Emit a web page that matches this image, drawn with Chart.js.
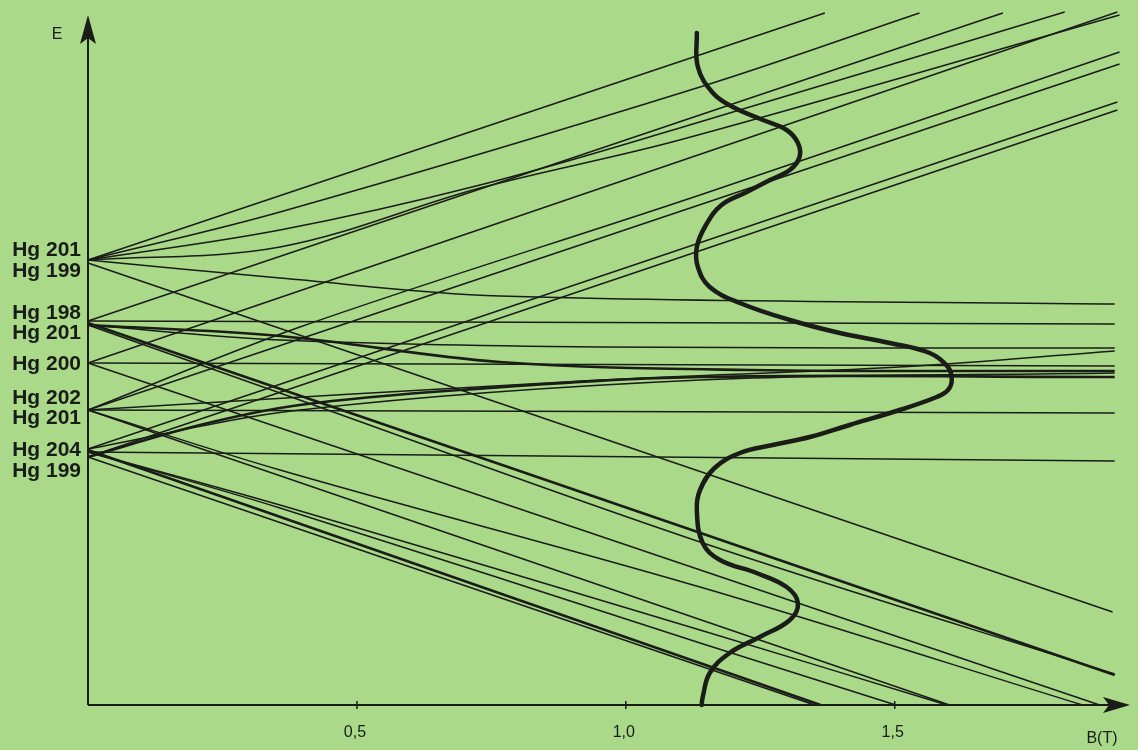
<!DOCTYPE html>
<html>
<head>
<meta charset="utf-8">
<script src="https://cdn.jsdelivr.net/npm/chart.js@4.4.1/dist/chart.umd.min.js"></script>
<style>
  html, body { margin: 0; padding: 0; background: #a9d989; }
  #wrap { width: 1138px; height: 750px; }
</style>
</head>
<body>
<div id="wrap"><canvas id="zeeman" width="1138" height="750"></canvas></div>
<script>
// Zeeman splitting of the Hg isotopes' levels versus magnetic field B (T).
// Energy E is in arbitrary units (no scale on the axis).

const isotopeLabels  = ['Hg 201', 'Hg 199', 'Hg 198', 'Hg 201', 'Hg 200', 'Hg 202', 'Hg 201', 'Hg 204', 'Hg 199'];
const labelEnergies  = [455, 434, 392, 372, 341, 307, 287, 255, 234];
const xTicks         = [0.5, 1.0, 1.5];

// Levels rising with B: [B, E] points
const risingLevels = [
  [[0, 445], [1.370, 692]],
  [[0, 445], [0.357, 493], [1.138, 618], [1.546, 692]],
  [[0, 384], [1.701, 692]],
  [[0, 445], [0.357, 475], [0.729, 520], [1.100, 577], [1.816, 693]],
  [[0, 342], [1.914, 693]],
  [[0, 445], [0.357, 458], [0.729, 517], [1.100, 565], [1.918, 690]],
  [[0, 295], [0.394, 378], [1.138, 510], [1.918, 653]],
  [[0, 295], [1.918, 641]],
  [[0, 256], [1.914, 603]],
  [[0, 248], [1.914, 595]]
];

// Levels that level off with B
const flatLevels = [
  [[0, 445], [0.357, 427], [0.766, 409], [1.909, 401]],
  [[0, 384], [1.909, 381]],
  [[0, 380], [0.357, 365], [0.952, 358], [1.909, 357]],
  [[0, 380], [0.357, 369], [0.766, 343], [1.230, 335], [1.909, 334]],
  [[0, 342], [1.909, 339]],
  [[0, 256], [0.394, 295], [1.138, 325], [1.909, 332]],
  [[0, 248], [0.208, 280], [0.394, 300], [0.691, 315], [1.138, 328], [1.909, 328]],
  [[0, 295], [0.952, 325], [1.509, 338], [1.909, 354]],
  [[0, 295], [1.909, 292]],
  [[0, 253], [1.909, 244]]
];

// Levels falling with B
const fallingLevels = [
  [[0, 442], [1.905, 93]],
  [[0, 382], [1.909, 30]],
  [[0, 380], [0.357, 312], [1.138, 163], [1.909, 31]],
  [[0, 342], [1.881, 0]],
  [[0, 295], [0.357, 235], [1.138, 118], [1.849, 0]],
  [[0, 295], [1.602, 0]],
  [[0, 253], [0.357, 200], [1.138, 75], [1.597, 0]],
  [[0, 253], [0.357, 197], [1.138, 62], [1.502, 0]],
  [[0, 255], [1.362, 0]],
  [[0, 248], [1.351, 0]]
];

// Heavier strokes
const heavyFlat    = [3, 6];
const heavyFalling = [1, 8];

// Absorption profile drawn across the diagram
const profileB = [1.132, 1.134, 1.162, 1.199, 1.255, 1.299, 1.320, 1.323, 1.305, 1.268, 1.225, 1.178, 1.149, 1.132,
                  1.134, 1.156, 1.212, 1.305, 1.398, 1.491, 1.565, 1.599, 1.606, 1.599, 1.578, 1.509, 1.416, 1.342,
                  1.273, 1.212, 1.165, 1.138, 1.132, 1.143, 1.175, 1.243, 1.299, 1.320, 1.305, 1.249, 1.193, 1.156,
                  1.143, 1.141];
const profileE = [672, 638, 612, 598, 585, 575, 562, 548, 535, 525, 513, 500, 480, 458,
                  438, 418, 402, 385, 372, 362, 352, 338, 325, 315, 308, 295, 280, 268,
                  260, 252, 237, 215, 195, 162, 145, 132, 118, 102, 85, 68, 52, 32,
                  8, 0];

const INK = '#1a1c18';
const BG  = '#aad98a';

function levelDataset(pts, heavy) {
  return {
    data: pts.map(([b, e]) => ({ x: b, y: e })),
    showLine: true,
    borderColor: INK,
    borderWidth: heavy ? 2.6 : 1.5,
    tension: pts.length > 2 ? 0.35 : 0,
    pointRadius: 0,
    fill: false,
    clip: false
  };
}

const datasets = [];
risingLevels.forEach(p => datasets.push(levelDataset(p, false)));
flatLevels.forEach((p, i) => datasets.push(levelDataset(p, heavyFlat.includes(i))));
fallingLevels.forEach((p, i) => datasets.push(levelDataset(p, heavyFalling.includes(i))));
datasets.push({
  data: profileB.map((b, i) => ({ x: b, y: profileE[i] })),
  showLine: true,
  borderColor: INK,
  borderWidth: 4.5,
  borderCapStyle: 'round',
  borderJoinStyle: 'round',
  tension: 0.4,
  pointRadius: 0,
  fill: false,
  clip: false
});

// Axes with arrowheads, ticks and labels
const axesDecor = {
  id: 'axesDecor',
  beforeDraw(chart) {
    const { ctx, width, height } = chart;
    ctx.save();
    ctx.fillStyle = BG;
    ctx.fillRect(0, 0, width, height);
    ctx.restore();
  },
  afterDatasetsDraw(chart) {
    const { ctx, chartArea, scales: { x, y } } = chart;
    const x0 = x.getPixelForValue(0);
    const y0 = y.getPixelForValue(0);
    const top = chartArea.top + 3;
    const right = chartArea.right + 4;
    ctx.save();
    ctx.strokeStyle = INK;
    ctx.fillStyle = INK;
    ctx.lineWidth = 2;

    // vertical axis
    ctx.beginPath();
    ctx.moveTo(x0, y0);
    ctx.lineTo(x0, top + 20);
    ctx.stroke();
    ctx.beginPath();
    ctx.moveTo(x0, top);
    ctx.lineTo(x0 + 8, top + 29);
    ctx.lineTo(x0, top + 23);
    ctx.lineTo(x0 - 8, top + 29);
    ctx.closePath();
    ctx.fill();

    // horizontal axis
    ctx.beginPath();
    ctx.moveTo(x0, y0);
    ctx.lineTo(right - 18, y0);
    ctx.stroke();
    ctx.beginPath();
    ctx.moveTo(right, y0);
    ctx.lineTo(right - 27, y0 - 8);
    ctx.lineTo(right - 21, y0);
    ctx.lineTo(right - 27, y0 + 8);
    ctx.closePath();
    ctx.fill();

    // ticks
    ctx.lineWidth = 1.5;
    ctx.font = '16px "Liberation Sans", Arial, sans-serif';
    ctx.textAlign = 'center';
    ctx.textBaseline = 'middle';
    xTicks.forEach(t => {
      const px = x.getPixelForValue(t);
      ctx.beginPath();
      ctx.moveTo(px, y0 - 4);
      ctx.lineTo(px, y0 + 4);
      ctx.stroke();
      ctx.fillText(t.toFixed(1).replace('.', ','), px - 2, y0 + 28);
    });

    // axis titles
    ctx.fillText('B(T)', right - 28, y0 + 34);
    ctx.fillText('E', x0 - 31, top + 20);

    // isotope labels
    ctx.font = 'bold 21px "Liberation Sans", Arial, sans-serif';
    ctx.textAlign = 'right';
    isotopeLabels.forEach((s, i) => {
      ctx.fillText(s, x0 - 7, y.getPixelForValue(labelEnergies[i]));
    });
    ctx.restore();
  }
};

new Chart(document.getElementById('zeeman'), {
  type: 'scatter',
  data: { datasets },
  options: {
    responsive: false,
    animation: false,
    devicePixelRatio: 1,
    layout: { padding: { left: 88, right: 12, top: 12, bottom: 45 } },
    scales: {
      x: { type: 'linear', min: 0, max: 1.93, display: false },
      y: { type: 'linear', min: 0, max: 693, display: false }
    },
    plugins: { legend: { display: false }, tooltip: { enabled: false } },
    events: []
  },
  plugins: [axesDecor]
});
</script>
</body>
</html>
